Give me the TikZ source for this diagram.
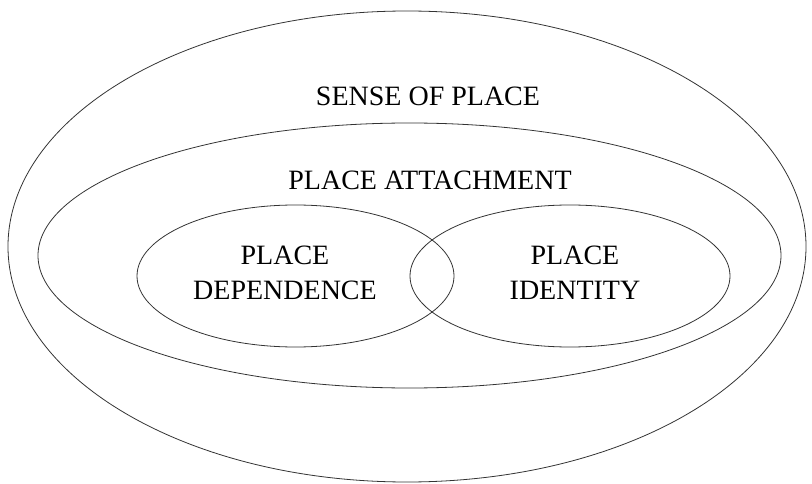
\documentclass[tikz,border=0pt]{standalone}
\usepackage{fontspec}
\setmainfont{Liberation Serif}
\usetikzlibrary{shapes.geometric}
\tikzset{
  ring/.style={draw=black!80,line width=0.8pt,ellipse,inner sep=0pt},
  tag/.style={font=\fontsize{28}{35}\selectfont,align=center,text=black}
}

\begin{document}
\begin{tikzpicture}[x=1pt,y=-1pt]
        \useasboundingbox (0,0) rectangle (812,484);
        \node[ring,minimum width=798pt,minimum height=471pt] (sense) at (407,246.5) {};
        \node[ring,minimum width=743pt,minimum height=265pt] (attach) at (409.5,255.5) {};
        \node[ring,minimum width=317pt,minimum height=142pt] (depend) at (295.5,276) {};
        \node[ring,minimum width=320pt,minimum height=142pt] (ident) at (570,276) {};
        \node[tag] (senseT) at (428,96) {SENSE OF PLACE};
        \node[tag] (attachT) at (430,180) {PLACE ATTACHMENT};
        \node[tag] (dependT) at (285,273) {PLACE\\DEPENDENCE};
        \node[tag] (identT) at (575,273) {PLACE\\IDENTITY};
      \end{tikzpicture}
\end{document}
